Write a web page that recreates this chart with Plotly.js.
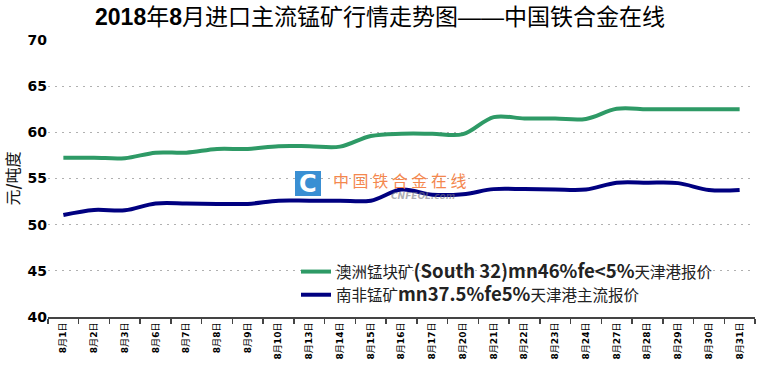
<!DOCTYPE html>
<html>
<head>
<meta charset="utf-8">
<script src="https://cdn.plot.ly/plotly-3.0.1.min.js"></script>
<style>html,body{margin:0;padding:0;background:#fff;}#chart{width:760px;height:371px;}</style>
</head>
<body>
<div id="chart"></div>
<script>
var dates = ["8月1日","8月2日","8月3日","8月6日","8月7日","8月8日","8月9日","8月10日","8月13日","8月14日","8月15日","8月16日","8月17日","8月20日","8月21日","8月22日","8月23日","8月24日","8月27日","8月28日","8月29日","8月30日","8月31日"];
var australia = [57.25,57.25,57.2,57.8,57.8,58.2,58.2,58.5,58.5,58.45,59.6,59.85,59.85,59.8,61.65,61.5,61.5,61.45,62.55,62.5,62.5,62.5,62.5];
var southAfrica = [51.05,51.6,51.55,52.3,52.3,52.25,52.25,52.6,52.6,52.6,52.6,53.8,53.25,53.3,53.85,53.85,53.8,53.8,54.55,54.55,54.5,53.75,53.75];
var seriesNames = [
  "澳洲锰块矿<span style=\"font-size:18.5px\"><b>(South 32)mn46%fe&lt;5%</b></span>天津港报价",
  "南非锰矿<span style=\"font-size:18.5px\"><b>mn37.5%fe5%</b></span>天津港主流报价"
];
var yTicks = [40,45,50,55,60,65,70];
var titleText = "<b>2018</b>年<b>8</b>月进口主流锰矿行情走势图——中国铁合金在线";
var yTitle = "元<b>/</b>吨度";

var tickText = dates.map(function(d){
  var m = d.match(/^(\d+)月(\d+)日$/);
  return "<b>"+m[1]+"</b>月<b>"+m[2]+"</b>日";
});

var traces = [
  {x: dates, y: australia, name: seriesNames[0], type: "scatter", mode: "lines",
   line: {color: "#2e9a66", width: 4, shape: "spline", smoothing: 1}},
  {x: dates, y: southAfrica, name: seriesNames[1], type: "scatter", mode: "lines",
   line: {color: "#000080", width: 4, shape: "spline", smoothing: 1}}
];

function px(x){ return (x-48)/707; }
function py(y){ return (317-y)/277; }

var layout = {
  width: 760, height: 371,
  margin: {l: 48, r: 5, t: 40, b: 54},
  paper_bgcolor: "#fff", plot_bgcolor: "#fff",
  font: {family: "DejaVu Sans, Noto Sans CJK SC, sans-serif", color: "#000"},
  title: {text: titleText, x: 0.5, xanchor: "center", y: 0.955, yanchor: "middle",
          font: {family: "Liberation Sans Narrow, Liberation Sans, Noto Sans CJK SC, sans-serif", size: 23, color: "#000"}},
  showlegend: true,
  legend: {x: px(296), y: py(255), xanchor: "left", yanchor: "top", bgcolor: "rgba(0,0,0,0)",
           font: {family: "Noto Sans CJK SC, DejaVu Sans, sans-serif", size: 15.5, color: "#222"},
           itemwidth: 30, tracegroupgap: 0},
  xaxis: {type: "category", range: [-0.5, dates.length-0.5], tickvals: dates, ticktext: tickText,
          tickangle: -90, tickfont: {family: "DejaVu Sans, Noto Sans CJK SC, sans-serif", size: 9, color: "#000"},
          ticks: "outside", tickson: "boundaries", ticklen: 5, tickwidth: 1.5, tickcolor: "#444",
          showline: true, linecolor: "#444", linewidth: 2, showgrid: false, zeroline: false, fixedrange: true},
  yaxis: {range: [40, 70], tickvals: yTicks, ticks: "", showline: false, zeroline: false,
          showgrid: true, gridcolor: "#b0b0b0", gridwidth: 1.2, griddash: "2px,5px",
          tickfont: {family: "DejaVu Sans, sans-serif", size: 14, color: "#000", weight: "bold"},
          title: {text: yTitle, standoff: 4, font: {family: "Noto Sans CJK SC, sans-serif", size: 16, color: "#111"}},
          fixedrange: true},
  shapes: [
    {type: "rect", xref: "paper", yref: "paper", x0: px(295), x1: px(321), y0: py(196), y1: py(171),
     fillcolor: "#3a8fd3", line: {width: 0}, layer: "above"}
  ],
  annotations: [
    {xref: "paper", yref: "paper", x: px(308), y: py(183.5), text: "<b>C</b>", showarrow: false,
     font: {family: "DejaVu Sans, sans-serif", size: 24, color: "#fff"}, xanchor: "center", yanchor: "middle"},
    {xref: "paper", yref: "paper", x: px(331), y: py(179.5), text: "中 国 铁 合 金 在 线", showarrow: false,
     font: {family: "Noto Sans CJK SC, sans-serif", size: 16, color: "#f4874e"}, xanchor: "left", yanchor: "middle"},
    {xref: "paper", yref: "paper", x: px(389), y: py(196), text: "<b><i>CNFEOL.com</i></b>", showarrow: false,
     font: {family: "DejaVu Sans, sans-serif", size: 9, color: "rgba(120,120,130,0.6)"}, xanchor: "left", yanchor: "middle"}
  ]
};

Plotly.newPlot("chart", traces, layout, {displayModeBar: false, staticPlot: true});
</script>
</body>
</html>
